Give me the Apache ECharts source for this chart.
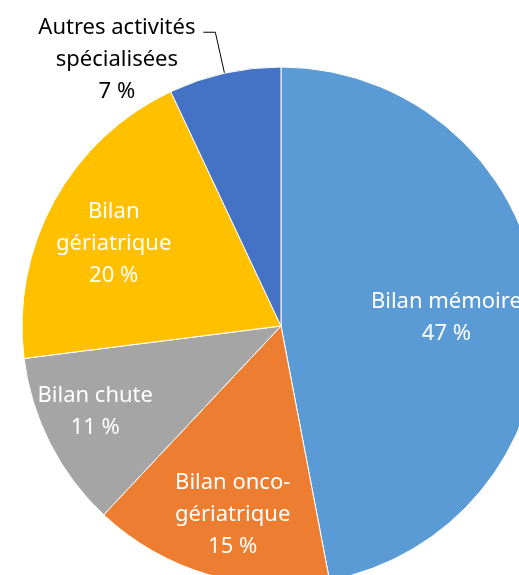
<!doctype html>
<html lang="fr">
<head>
<meta charset="UTF-8">
<title>Répartition des bilans</title>
<script src="https://cdnjs.cloudflare.com/ajax/libs/echarts/6.0.0/echarts.min.js"></script>
<style>
	html, body { margin: 0; padding: 0; background: #fff; }
	#main { width: 519px; height: 575px; }
</style>
</head>
<body>
<div id="main"></div>
<script type="text/javascript">
	// données
	var categories = ['Bilan mémoire', 'Bilan onco-\ngériatrique', 'Bilan chute', 'Bilan\ngériatrique', 'Autres activités\nspécialisées'];
	var values = [47, 15, 11, 20, 7];
	var colors = ['#5B9BD5', '#ED7D31', '#A5A5A5', '#FFC000', '#4472C4'];

	// placement des étiquettes : rayon relatif (1 = bord) et décalage d'angle en degrés
	var labelRadius = [0.64, 0.74, 0.785, 0.725, 1.216];
	var labelTurn = [1.6, -1.6, 3.0, -1.8, -18.8];

	var cx = 281, cy = 326, R = 259;
	var textShift = 3; // petit recalage vertical du texte
	var total = values.reduce(function (a, b) { return a + b; }, 0);
	var midAngles = [], acc = 0;
	values.forEach(function (v) {
		midAngles.push((acc + v / 2) / total * 360);
		acc += v;
	});

	var myChart = echarts.init(document.getElementById('main'));

	var pieData = categories.map(function (name, i) {
		var item = { name: name, value: values[i], itemStyle: { color: colors[i] } };
		if (i === 4) {
			item.label = { position: 'outside', color: '#000' };
			item.labelLine = { show: true, length: 42, length2: 12, lineStyle: { color: '#000', width: 1 } };
		}
		return item;
	});

	option = {
		animation: false,
		series: [{
			type: 'pie',
			center: [cx, cy],
			radius: [0, R],
			startAngle: 90,
			clockwise: true,
			avoidLabelOverlap: false,
			itemStyle: { borderColor: '#fff', borderWidth: 1 },
			label: {
				show: true,
				position: 'inside',
				color: '#fff',
				fontFamily: 'Noto Sans',
				fontSize: 22,
				lineHeight: 32,
				formatter: function (p) { return p.name + '\n' + p.value + ' %'; }
			},
			labelLine: { show: false },
			labelLayout: function (p) {
				var i = p.dataIndex;
				var a = (midAngles[i] + labelTurn[i]) * Math.PI / 180;
				var r = labelRadius[i] * R;
				var tx = cx + r * Math.sin(a), ty = cy - r * Math.cos(a) + textShift;
				if (i === 4) {
					// étiquette externe : on décale le texte sans toucher au trait de rappel
					var rc = p.labelRect;
					return {
						align: 'center',
						dx: tx - (rc.x + rc.width),
						dy: ty - (rc.y + rc.height / 2)
					};
				}
				return { x: tx, y: ty, align: 'center', verticalAlign: 'middle' };
			},
			data: pieData
		}]
	};
	myChart.setOption(option);
</script>
</body>
</html>
